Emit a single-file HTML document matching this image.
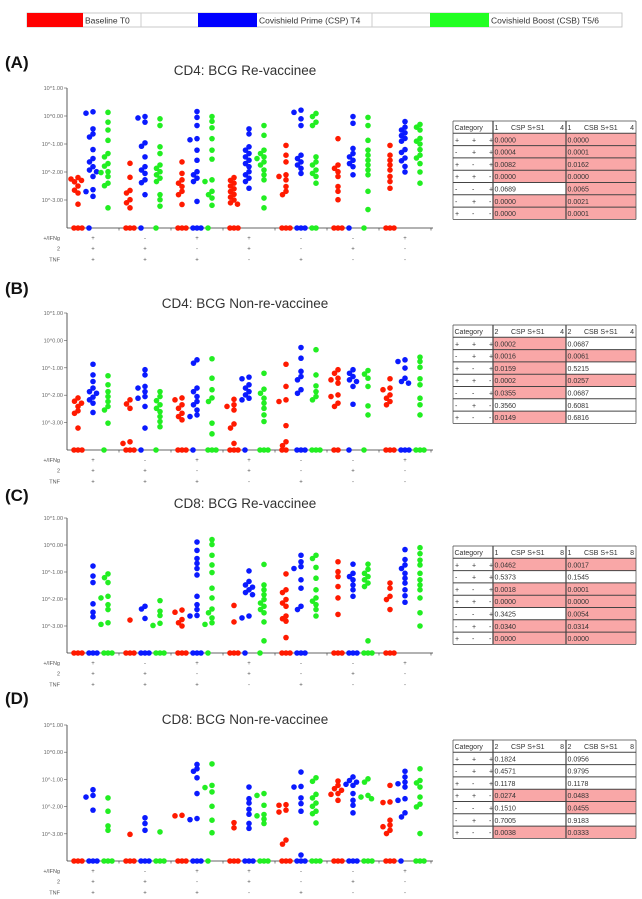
<!DOCTYPE html>
<html><head><meta charset="utf-8"><style>
html,body{margin:0;padding:0;background:#fff;}
svg{display:block;font-family:"Liberation Sans",sans-serif;}
</style></head><body>
<svg id="fig" width="642" height="899" viewBox="0 0 642 899" xmlns="http://www.w3.org/2000/svg">
<g>
<rect x="27" y="13" width="595" height="14" fill="#fff" stroke="#bbb" stroke-width="0.8"/>
<rect x="27" y="13" width="56" height="14" fill="#ff0000"/>
<text x="85" y="23.5" font-size="8.5" fill="#333">Baseline T0</text>
<line x1="141" y1="13" x2="141" y2="27" stroke="#ccc"/>
<rect x="198" y="13" width="59" height="14" fill="#0000ff"/>
<text x="259" y="23.5" font-size="8.5" fill="#333">Covishield Prime (CSP) T4</text>
<line x1="372" y1="13" x2="372" y2="27" stroke="#ccc"/>
<rect x="430" y="13" width="59" height="14" fill="#22ff22"/>
<text x="491" y="23.5" font-size="8.5" fill="#333">Covishield Boost (CSB) T5/6</text>
</g>
</svg>
<script>
const NS='http://www.w3.org/2000/svg';
const svg=document.getElementById('fig');
function mk(tag,attrs,parent){const e=document.createElementNS(NS,tag);for(const k in attrs)e.setAttribute(k,attrs[k]);(parent||svg).appendChild(e);return e;}

const tickLabels=["10^1.00","10^0.00","10^-1.00","10^-2.00","10^-3.00"];
const tickValues=[1,0,-1,-2,-3];
const rowNames=["+/IFNg","2","TNF"];
const ifngSigns=["+","-","+","+","-","-","+"];
const il2Signs=["+","+","-","+","-","+","-"];
const tnfSigns=["+","+","+","-","+","-","-"];
const seriesColors=["#ff1a00","#0a1aff","#22ee22"];
const seriesNames=["baseline","csp","csb"];
const panelTitles=["CD4: BCG Re-vaccinee","CD4: BCG Non-re-vaccinee","CD8: BCG Re-vaccinee","CD8: BCG Non-re-vaccinee"];
const panelLetters=["(A)","(B)","(C)","(D)"];

// log10 frequency values; -4 = zero (plotted at baseline)
const A_baseline=[[-2.2,-2.25,-2.3,-2.35,-2.5,-2.65,-2.75,-3.15,-4,-4,-4],[-1.69,-2.19,-2.66,-2.75,-2.99,-3.1,-3.28,-4,-4,-4],[-1.64,-2.05,-2.28,-2.4,-2.52,-2.69,-2.81,-3.16,-4,-4,-4],[-2.2,-2.3,-2.4,-2.5,-2.6,-2.7,-2.8,-2.9,-3.0,-3.1,-3.15,-4,-4,-4],[-1.05,-1.4,-1.64,-2.1,-2.16,-2.28,-2.52,-2.69,-2.81,-4,-4,-4],[-0.81,-1.75,-1.87,-1.99,-2.16,-2.52,-2.69,-2.99,-4,-4,-4],[-1.05,-1.4,-1.58,-1.75,-1.93,-2.16,-2.34,-2.58,-4,-4,-4]];
const A_csp=[[0.15,0.1,-0.46,-0.64,-0.75,-1.2,-1.52,-1.64,-1.81,-1.93,-1.99,-2.16,-2.63,-2.7,-2.87,-4],[-0.02,-0.07,-0.22,-0.96,-1.08,-1.46,-1.81,-1.93,-2.05,-2.28,-2.38,-2.81,-4],[0.16,-0.05,-0.34,-0.81,-0.85,-1.22,-1.58,-1.99,-2.1,-2.22,-2.34,-3.05,-4,-4,-4],[-0.46,-0.64,-1.1,-1.22,-1.34,-1.46,-1.58,-1.7,-1.81,-1.99,-2.1,-2.22,-2.34,-2.58],[0.21,0.13,-0.1,-0.34,-1.4,-1.52,-1.64,-1.75,-1.87,-2.05,-4,-4,-4],[-0.02,-0.26,-1.16,-1.34,-1.46,-1.58,-1.7,-1.81,-2.1,-4],[-0.2,-0.4,-0.5,-0.6,-0.7,-0.8,-0.9,-1.2,-1.3,-1.5,-1.6,-1.8,-2.0]];
const A_csb=[[0.13,-0.22,-0.5,-0.87,-1.34,-1.46,-1.7,-1.79,-1.99,-2.02,-2.16,-2.4,-2.49,-3.28],[-0.1,-0.34,-1.1,-1.34,-1.75,-1.87,-1.99,-2.1,-2.22,-2.34,-2.81,-2.99,-3.22,-4],[-0.02,-0.19,-0.42,-0.81,-1.22,-1.54,-2.28,-2.34,-2.69,-2.81,-2.93,-3.19,-4],[-0.34,-0.69,-1.22,-1.34,-1.46,-1.52,-1.64,-1.75,-1.93,-2.1,-2.28,-2.93,-3.28],[0.09,-0.02,-0.22,-0.34,-1.46,-1.64,-1.75,-1.93,-2.05,-2.16,-2.4,-4,-4],[-0.05,-0.34,-0.87,-1.22,-1.4,-1.58,-1.75,-1.93,-2.1,-2.69,-3.34,-4],[-0.3,-0.4,-0.5,-0.8,-0.9,-1.0,-1.2,-1.4,-1.5,-1.7,-2.0,-2.4]];

const B_baseline=[[-2.1,-2.22,-2.29,-2.41,-2.57,-2.66,-3.2,-4,-4,-4],[-2.17,-2.32,-2.48,-3.7,-3.76,-4,-4,-4],[-2.1,-2.17,-2.35,-2.48,-2.66,-2.78,-2.9,-4,-4,-4],[-2.15,-2.35,-2.41,-2.54,-3.05,-3.2,-3.76,-4,-4,-4],[-0.87,-1.68,-2.17,-2.23,-3.11,-3.7,-3.84,-4,-4],[-1.07,-1.2,-1.38,-1.44,-1.56,-1.99,-2.05,-2.29,-2.41,-4,-4],[-1.4,-1.74,-1.8,-1.99,-2.11,-2.23,-2.35,-4,-4,-4]];
const B_csp=[[-0.87,-1.26,-1.5,-1.74,-1.87,-1.93,-2.07,-2.17,-2.29,-2.63],[-1.07,-1.26,-1.68,-1.74,-1.87,-2.05,-2.11,-2.41,-3.2,-4],[-0.71,-0.83,-1.74,-1.87,-2.05,-2.23,-2.35,-2.54,-2.72,-2.78,-4],[-1.34,-1.4,-1.62,-1.74,-1.87,-1.99,-2.11,-2.17,-4],[-0.26,-0.65,-1.13,-1.32,-1.44,-1.8,-1.93,-4,-4,-4],[-1.07,-1.2,-1.32,-1.44,-1.5,-1.68,-2.33,-4],[-0.71,-0.77,-1.01,-1.38,-1.5,-1.56,-4,-4,-4]];
const B_csb=[[-1.29,-1.62,-1.87,-2.05,-2.23,-2.41,-2.54,-3.02,-4],[-1.87,-2.05,-2.2,-2.35,-2.48,-2.6,-2.78,-2.96,-3.15,-4],[-0.67,-1.38,-1.8,-2.1,-2.23,-3.02,-3.41,-4,-4,-4],[-1.2,-1.78,-1.93,-2.11,-2.29,-2.48,-2.72,-2.96,-4,-4,-4],[-0.34,-1.26,-1.66,-1.87,-2.05,-2.17,-4,-4,-4],[-1.1,-1.23,-1.38,-1.68,-2.39,-2.72,-4],[-0.61,-0.77,-0.98,-1.4,-1.62,-2.11,-2.35,-2.72,-4,-4,-4]];

const C_baseline=[[-4,-4,-4],[-2.78,-4,-4,-4],[-2.41,-2.49,-2.76,-2.88,-3.0,-4,-4,-4],[-2.24,-2.85,-4,-4,-4],[-1.07,-1.66,-1.76,-2.02,-2.15,-2.27,-2.63,-2.73,-2.82,-3.43,-4,-4,-4],[-0.62,-0.99,-1.17,-1.54,-1.96,-2.57,-4,-4,-4],[-1.41,-1.6,-1.9,-2.02,-2.39,-4,-4,-4]];
const C_csp=[[-0.78,-1.15,-1.39,-2.18,-2.49,-2.66,-4,-4,-4],[-2.27,-2.37,-2.72,-4,-4,-4],[0.11,-0.2,-0.5,-0.68,-0.87,-1.11,-1.9,-2.21,-2.39,-2.61,-2.63,-4,-4,-4],[-0.96,-1.35,-1.48,-1.56,-1.66,-1.76,-1.84,-2.63,-2.7,-4],[-0.38,-0.62,-0.8,-0.87,-1.29,-1.6,-2.27,-2.39,-4,-4,-4],[-0.71,-1.05,-1.17,-1.29,-1.48,-1.66,-1.9,-4,-4,-4],[-0.17,-0.54,-0.74,-0.87,-1.05,-1.23,-1.41,-1.66,-1.88,-2.12]];
const C_csb=[[-1.07,-1.21,-1.39,-1.9,-1.96,-2.21,-2.39,-2.88,-2.94,-4,-4,-4],[-2.06,-2.45,-2.61,-2.9,-2.98,-4,-4,-4],[0.2,0.02,-0.38,-0.74,-1.02,-1.6,-1.96,-2.37,-2.51,-2.7,-2.88,-2.94,-4],[-0.72,-1.48,-1.66,-1.84,-2.02,-2.15,-2.27,-2.39,-2.51,-2.85,-3.55,-4],[-0.38,-0.5,-0.83,-1.23,-1.66,-1.96,-2.08,-2.21,-2.39,-2.63],[-0.71,-0.9,-1.05,-1.17,-1.29,-1.41,-1.54,-3.55,-4,-4,-4],[-0.1,-0.32,-0.56,-0.74,-1.05,-1.29,-1.48,-1.66,-1.96,-2.51,-3.0]];

const D_baseline=[[-4,-4,-4],[-3.02,-4,-4,-4],[-2.32,-2.34,-4,-4,-4],[-2.59,-2.78,-4,-4,-4],[-1.93,-1.95,-2.13,-2.2,-3.23,-3.38,-4,-4,-4],[-1.06,-1.22,-1.34,-1.4,-1.52,-1.55,-1.77,-4,-4,-4],[-1.22,-1.83,-1.85,-2.5,-2.68,-2.74,-2.87,-2.99,-4,-4,-4]];
const D_csp=[[-1.38,-1.59,-1.65,-2.13,-4,-4,-4],[-2.41,-2.62,-2.87,-4,-4,-4],[-0.45,-0.61,-0.7,-0.94,-1.52,-2.44,-2.48,-4,-4,-4],[-1.28,-1.71,-1.87,-2.1,-2.28,-2.62,-2.8,-4,-4,-4],[-0.73,-1.26,-1.28,-1.68,-1.89,-2.17,-3.78,-4,-4,-4],[-0.91,-1.04,-1.1,-1.18,-1.22,-1.52,-1.77,-1.95,-2.23,-4,-4,-4],[-0.7,-0.91,-1.1,-1.16,-1.28,-1.71,-1.77,-2.23,-2.38,-4]];
const D_csb=[[-1.68,-2.17,-2.71,-2.87,-4,-4,-4],[-2.93,-4,-4,-4],[-0.43,-1.22,-1.3,-1.46,-1.99,-2.5,-2.96,-4],[-1.52,-1.59,-1.95,-2.29,-2.34,-2.46,-2.62,-4,-4,-4],[-0.94,-1.07,-1.55,-1.68,-1.87,-1.99,-2.17,-2.26,-2.6,-4,-4,-4],[-0.98,-1.1,-1.59,-1.65,-1.71,-4,-4,-4],[-0.61,-1.04,-1.13,-1.28,-1.65,-1.91,-2.01,-2.99,-4,-4,-4]];

// p-value tables
const A_cspP=["0.0000","0.0004","0.0082","0.0000","0.0689","0.0000","0.0000"];
const A_csbP=["0.0000","0.0001","0.0162","0.0000","0.0065","0.0021","0.0001"];
const B_cspP=["0.0002","0.0016","0.0159","0.0002","0.0355","0.3560","0.0149"];
const B_csbP=["0.0687","0.0061","0.5215","0.0257","0.0687","0.6081","0.6816"];
const C_cspP=["0.0462","0.5373","0.0018","0.0000","0.3425","0.0340","0.0000"];
const C_csbP=["0.0017","0.1545","0.0001","0.0000","0.0054","0.0314","0.0000"];
const D_cspP=["0.1824","0.4571","0.1178","0.0274","0.1510","0.7005","0.0038"];
const D_csbP=["0.0956","0.9795","0.1178","0.0483","0.0455","0.9183","0.0333"];
const tableHeaders=[["1","4"],["2","4"],["1","8"],["2","8"]];

const panels=[
 {series:[A_baseline,A_csp,A_csb],p:[A_cspP,A_csbP],base:228,dec:28,title:75,letter:68,table:121},
 {series:[B_baseline,B_csp,B_csb],p:[B_cspP,B_csbP],base:450,dec:27.4,title:308,letter:294,table:325},
 {series:[C_baseline,C_csp,C_csb],p:[C_cspP,C_csbP],base:653,dec:27,title:508,letter:501,table:546},
 {series:[D_baseline,D_csp,D_csb],p:[D_cspP,D_csbP],base:861,dec:27.2,title:724,letter:704,table:740}
];

const X0=67, GW=52, NG=7;
function xCenter(g){return X0+(g+0.5)*GW;}

panels.forEach((P,pi)=>{
 const g=mk('g',{});
 
 
 const yScale=v=>P.base-(v+4)*P.dec;
 const lt=mk('text',{x:5,y:P.letter,'font-size':17,'font-weight':'bold',fill:'#111'},g);
 lt.textContent=panelLetters[pi];
 
 
 const tt=mk('text',{x:245,y:P.title,'font-size':13.5,fill:'#333','text-anchor':'middle'},g);
 tt.textContent=panelTitles[pi];
 
 
 const ya=mk('line',{x1:X0,y1:yScale(1),x2:X0,y2:P.base,stroke:'#333','stroke-width':0.8},g);
 
 
 tickValues.forEach((v,i)=>{
  mk('line',{x1:X0-3,y1:yScale(v),x2:X0,y2:yScale(v),stroke:'#555','stroke-width':0.6},g);
  const t=mk('text',{x:X0-4,y:yScale(v)+2,'font-size':5.5,fill:'#666','text-anchor':'end'},g);
  t.textContent=tickLabels[i];
  
  
 });
 const xa=mk('line',{x1:X0,y1:P.base,x2:X0+NG*GW+2,y2:P.base,stroke:'#333','stroke-width':0.8},g);
 
 
 for(let k=1;k<=NG;k++){mk('line',{x1:X0+k*GW,y1:P.base,x2:X0+k*GW,y2:P.base+2.5,stroke:'#333','stroke-width':0.6},g);}
 const signRows=[ifngSigns,il2Signs,tnfSigns];
 rowNames.forEach((rn,ri)=>{
  const y=P.base+12+ri*10.7;
  const t=mk('text',{x:60,y:y,'font-size':5.5,fill:'#555','text-anchor':'end'},g);
  t.textContent=rn;
  
  
  signRows[ri].forEach((s,gi)=>{
   const st=mk('text',{x:xCenter(gi),y:y,'font-size':6,fill:'#555','text-anchor':'middle'},g);
   st.textContent=s;
   
   
  });
 });
 const offsets=[0,-3.5,3.5,-7,7,-10.5,10.5];
 const zeroOffsets=[-4,0,4];
 P.series.forEach((ser,si)=>{
  ser.forEach((vals,gi)=>{
   const cx0=xCenter(gi)+(si-1)*15;
   const placed=[];
   let zi=0;
   vals.forEach(v=>{
    const cy=yScale(v);
    let cx=cx0;
    if(v<=-4){cx=cx0+zeroOffsets[zi%3];zi++;}
    else{
     for(const o of offsets){
      const x=cx0+o;
      if(!placed.some(p=>Math.hypot(p[0]-x,p[1]-cy)<4.2)){cx=x;break;}
     }
     placed.push([cx,cy]);
    }
    const c=mk('circle',{cx:cx,cy:cy,r:2.8,fill:seriesColors[si]},g);
    
    
   });
  });
 });
 const tg=mk('g',{},g);
 
 
 const tx=[453,493,566,636], rh=12.3, ty=P.table;
 const cats=[["+","+","+"],["-","+","+"],["+","-","+"],["+","+","-"],["-","-","+"],["-","+","-"],["+","-","-"]];
 for(let r=0;r<7;r++){
  const y=ty+rh*(r+1);
  [0,1].forEach(c=>{
   const val=parseFloat(P.p[c][r]);
   mk('rect',{x:tx[c+1],y:y,width:tx[c+2]-tx[c+1],height:rh,fill:val<0.05?'#f9a7a7':'#fff'},tg);
   const t=mk('text',{x:tx[c+1]+1.5,y:y+rh-3.3,'font-size':7,fill:'#333'},tg);
   t.textContent=P.p[c][r];
   
   
  });
  cats[r].forEach((s,k)=>{
   const t=mk('text',{x:tx[0]+2+k*17,y:y+rh-3.3,'font-size':7,fill:'#333'},tg);
   t.textContent=s;
  });
 }
 const h=[["Category",tx[0]+1.5],[tableHeaders[pi][0],tx[1]+1.5],[tableHeaders[pi][0],tx[2]+1.5]];
 h.forEach(a=>{const t=mk('text',{x:a[1],y:ty+rh-3.3,'font-size':7,fill:'#333'},tg);t.textContent=a[0];});
 [["CSP S+S1",tx[1]+18],["CSB S+S1",tx[2]+18]].forEach(a=>{const t=mk('text',{x:a[1],y:ty+rh-3.3,'font-size':7,fill:'#333'},tg);t.textContent=a[0];});
 [tx[2]-2,tx[3]-2].forEach(x=>{const t=mk('text',{x:x,y:ty+rh-3.3,'font-size':7,fill:'#333','text-anchor':'end'},tg);t.textContent=tableHeaders[pi][1];});
 for(let r=0;r<=8;r++){mk('line',{x1:tx[0],y1:ty+rh*r,x2:tx[3],y2:ty+rh*r,stroke:'#444','stroke-width':r==0||r==8?0.7:1},tg);}
 tx.forEach((x,i)=>{mk('line',{x1:x,y1:ty,x2:x,y2:ty+rh*8,stroke:'#444','stroke-width':i==1||i==2?1.2:0.7},tg);});
});
</script>
</body></html>
